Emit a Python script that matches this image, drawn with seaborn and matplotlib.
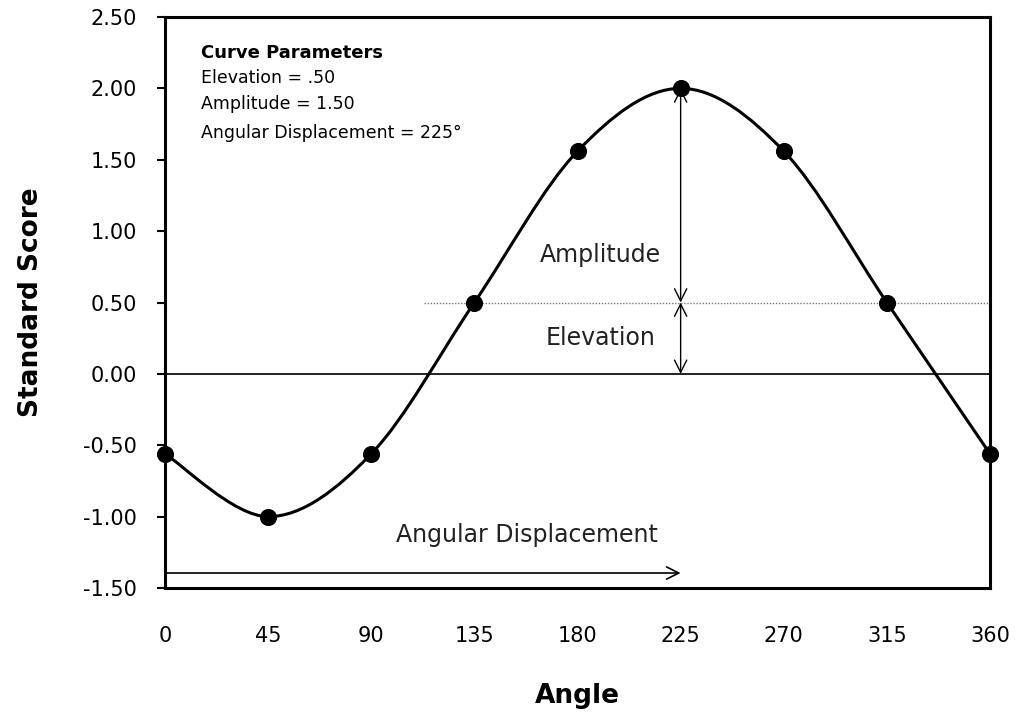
import numpy as np
import pandas as pd
import matplotlib
matplotlib.use("Agg")
import matplotlib.pyplot as plt
import seaborn as sns
from matplotlib.path import Path
from matplotlib.patches import PathPatch

# data
angles = [0, 45, 90, 135, 180, 225, 270, 315, 360]
scores = [-0.56, -1.00, -0.56, 0.50, 1.56, 2.00, 1.56, 0.50, -0.56]
x_ticks = [0, 45, 90, 135, 180, 225, 270, 315, 360]
y_ticks = [-1.5, -1.0, -0.5, 0.0, 0.5, 1.0, 1.5, 2.0, 2.5]
elevation = 0.50
amplitude = 1.50
displacement = 225

df = pd.DataFrame({"angle": angles, "score": scores})

sns.set_style("white")
plt.rcParams["font.family"] = ["DejaVu Sans"]
plt.rcParams["text.color"] = "black"
plt.rcParams["axes.labelcolor"] = "black"
plt.rcParams["xtick.color"] = "black"
plt.rcParams["ytick.color"] = "black"

fig = plt.figure(figsize=(10.18, 7.17), dpi=100)
ax = fig.add_axes([0.1621, 0.1799, 0.8104, 0.7964])

# smoothed line through the points (Excel-style bezier)
pts = df[["angle", "score"]].to_numpy(dtype=float)
ext = np.vstack([pts[0], pts, pts[-1]])
verts = [tuple(pts[0])]
codes = [Path.MOVETO]
for i in range(len(pts) - 1):
    p0, p1, p2, p3 = ext[i], ext[i + 1], ext[i + 2], ext[i + 3]
    c1 = p1 + (p2 - p0) / 6
    c2 = p2 - (p3 - p1) / 6
    verts += [tuple(c1), tuple(c2), tuple(p2)]
    codes += [Path.CURVE4] * 3
ax.add_patch(PathPatch(Path(verts, codes), fill=False, edgecolor="black", lw=2.2, zorder=3))

sns.scatterplot(data=df, x="angle", y="score", ax=ax, color="black", s=130,
                edgecolor="black", zorder=4, clip_on=False, legend=False)

# reference lines
ax.axhline(0, color="#222222", lw=1.4, zorder=1)
ax.hlines(elevation, 113, 360, colors="#777777", linestyles=(0, (1, 1.2)), lw=1, zorder=1)

arrow = dict(arrowstyle="<->", color="black", lw=1, mutation_scale=22, shrinkA=0, shrinkB=0)
ax.annotate("", xy=(displacement, elevation + amplitude), xytext=(displacement, elevation),
            arrowprops=arrow)
ax.annotate("", xy=(displacement, elevation), xytext=(displacement, 0), arrowprops=arrow)
ax.annotate("", xy=(displacement, -1.395), xytext=(0, -1.395),
            arrowprops=dict(arrowstyle="->", color="black", lw=1.2, mutation_scale=22,
                            shrinkA=0, shrinkB=0))

ax.text(190, 0.83, "Amplitude", ha="center", va="center", fontsize=17, color="#222222")
ax.text(190, 0.25, "Elevation", ha="center", va="center", fontsize=17, color="#222222")
ax.text(158, -1.13, "Angular Displacement", ha="center", va="center", fontsize=17, color="#222222")

ax.text(15.5, 2.25, "Curve Parameters", fontsize=13, fontweight="bold", va="center")
ax.text(15.5, 2.07, "Elevation = .50", fontsize=12.5, va="center")
ax.text(15.5, 1.89, "Amplitude = 1.50", fontsize=12.5, va="center")
ax.text(15.5, 1.69, "Angular Displacement = 225°", fontsize=12.5, va="center")

ax.set_xlim(0, 360)
ax.set_ylim(-1.5, 2.5)
ax.set_xticks(x_ticks)
ax.set_yticks(y_ticks)
ax.set_yticklabels([f"{v:.2f}" for v in y_ticks])
ax.tick_params(axis="x", length=0, pad=27, labelsize=15)
ax.tick_params(axis="y", length=6, width=1.5, direction="out", pad=14, labelsize=15, left=True)
ax.set_xlabel("Angle", fontsize=19, fontweight="bold", labelpad=27)
ax.set_ylabel("Standard Score", fontsize=19, fontweight="bold", labelpad=28)
for side in ["left", "right", "top", "bottom"]:
    ax.spines[side].set_visible(True)
    ax.spines[side].set_color("black")
    ax.spines[side].set_linewidth(2.2)

fig.savefig("out.png", dpi=100)
plt.close(fig)
